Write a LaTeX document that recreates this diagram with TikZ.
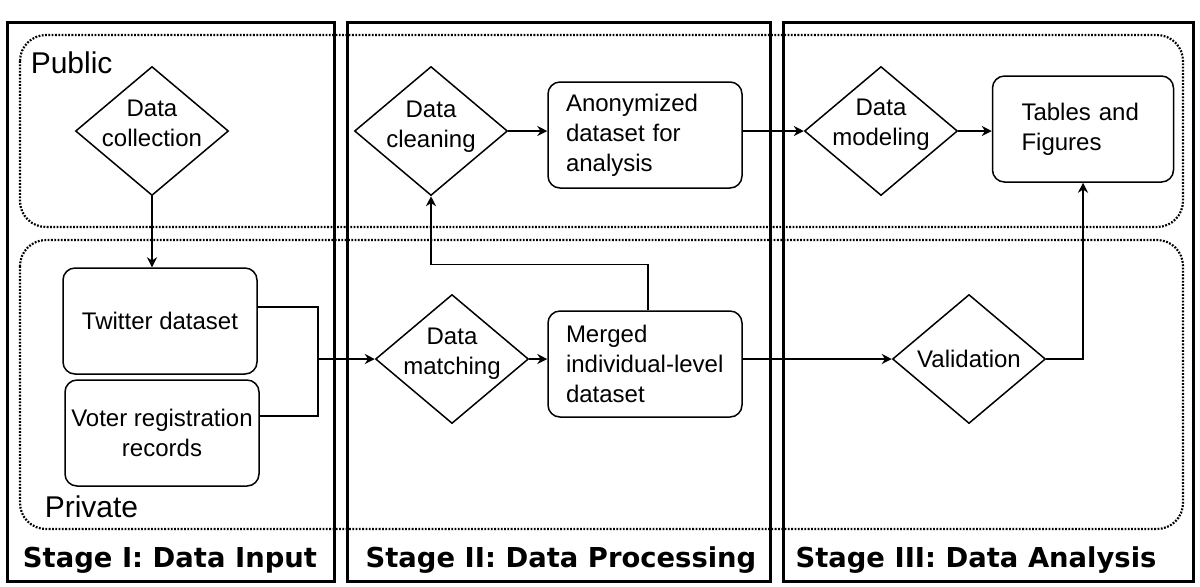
\documentclass[tikz,border=0pt]{standalone}
\usepackage{fontspec}
\setmainfont{Liberation Sans}
\newfontfamily\stagefont{DejaVu Sans}
\usetikzlibrary{arrows.meta}
\usetikzlibrary{shapes.geometric}

\begin{document}
\begin{tikzpicture}[x=0.5pt, y=-0.5pt, line width=0.75pt, >={Stealth[length=5pt,width=5pt]},
  decision/.style={diamond, draw, inner sep=-8pt, minimum width=76.5pt, minimum height=64.5pt, align=center, font=\fontsize{12}{15}\selectfont},
  lift/.style={execute at end node={\rule[-#1]{0pt}{0pt}}},
  databox/.style={draw, rounded corners=6pt, minimum width=97pt, minimum height=53pt, inner xsep=9pt, text width=79pt, align=left, font=\fontsize{12}{15}\selectfont},
  inbox/.style={draw, rounded corners=6pt, minimum width=97pt, minimum height=53pt, inner xsep=2pt, align=center, font=\fontsize{12}{15}\selectfont},
  region/.style={line width=1.1pt, dash pattern=on 0.9pt off 0.75pt, rounded corners=13pt},
  regionlabel/.style={anchor=base west, inner sep=0, font=\fontsize{15}{18}\selectfont},
  stagebox/.style={line width=1.5pt},
  stagelabel/.style={anchor=base, inner sep=0, font=\stagefont\bfseries\fontsize{13.7}{16}\selectfont}]
\useasboundingbox (0,0) rectangle (1200,586);
% public / private areas
\draw[region] (20,35) rectangle (1183,227);
\draw[region] (20,240) rectangle (1183,529);
\node[regionlabel] (public) at (30,73) {Public};
\node[regionlabel] (private) at (44,517) {Private};
% stages
\foreach \xa/\xb/\cx/\lbl [count=\i] in {7/334/170/{Stage I: Data Input}, 347/770/561/{Stage II: Data Processing}, 783/1193/976/{Stage III: Data Analysis}} {
 \draw[stagebox] (\xa,22) rectangle (\xb,581);
 \node[stagelabel] (stage\i) at (\cx,567) {\lbl};
}
% steps
\node[decision, lift=8pt] (collect) at (152,131) {Data\\collection};
\node[inbox] (twitter) at (160,321) {Twitter dataset};
\node[inbox] (voter) at (162,433) {Voter registration\\records};
\node[decision, lift=7pt] (clean) at (431,131) {Data\\cleaning};
\node[databox] (anon) at (645,135) {Anonymized\\dataset for\\analysis};
\node[decision, lift=8pt] (match) at (452,359) {Data\\matching};
\node[databox] (merged) at (645,364) {Merged\\individual-level\\dataset};
\node[decision, lift=9pt] (model) at (881,131) {Data\\modeling};
\node[databox, minimum width=90.5pt, inner xsep=14.5pt, text width=61.5pt] (tables) at (1083,129) {Tables and\\Figures};
\node[decision] (valid) at (969,359) {Validation};
% connectors
\coordinate (join) at (318,359);
\draw[->] (collect.south) -- (collect.south |- twitter.north);
\draw ([yshift=7pt]twitter.east) -| (join);
\draw ([yshift=8.5pt]voter.east) -| (join);
\draw[->] (join) -- (match.west);
\draw[->] (match.east) -- (match.east -| merged.west);
\draw[->] ([xshift=1.5pt]merged.north) -- ++(0,-46) -| (clean.south);
\draw[->] (clean.east) -- (clean.east -| anon.west);
\draw[->] (anon.east |- model.west) -- (model.west);
\draw[->] (model.east) -- (model.east -| tables.west);
\draw[->] (merged.east |- valid.west) -- (valid.west);
\draw[->] (valid.east) -| (tables.south);
\end{tikzpicture}
\end{document}
